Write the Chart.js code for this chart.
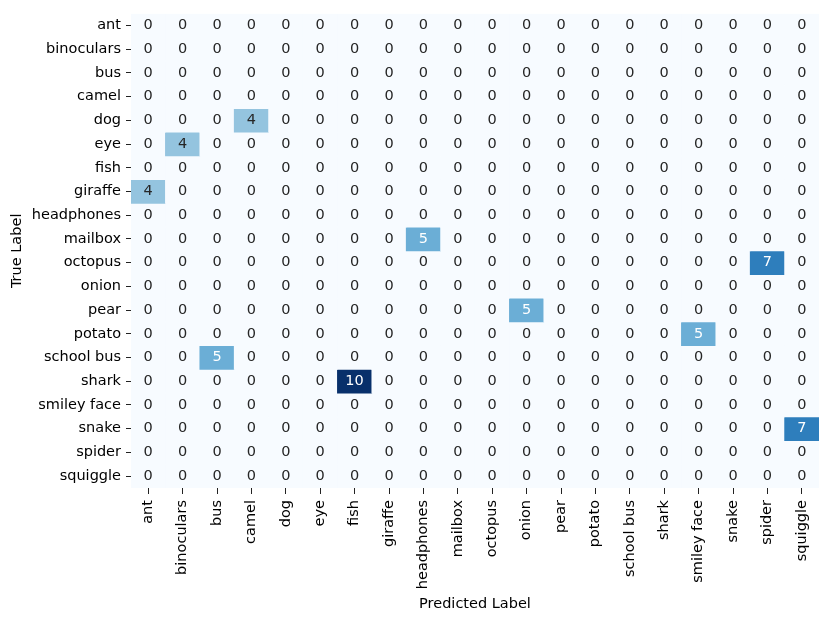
<!DOCTYPE html>
<html>
<head>
<meta charset="utf-8">
<script src="https://cdn.jsdelivr.net/npm/chart.js@4"></script>
<style>
html,body{margin:0;padding:0;background:#fff;}
#wrap{width:830px;height:620px;}
</style>
</head>
<body>
<div id="wrap"><canvas id="c" width="830" height="620"></canvas></div>
<script>
const categories = ["ant","binoculars","bus","camel","dog","eye","fish","giraffe","headphones","mailbox","octopus","onion","pear","potato","school bus","shark","smiley face","snake","spider","squiggle"];
const trueLabels = categories;
const predictedLabels = categories;
// non-zero confusion entries: [true index, predicted index, count]
const nonZeroEntries = [
  [4, 3, 4],
  [5, 1, 4],
  [7, 0, 4],
  [9, 8, 5],
  [10, 18, 7],
  [12, 11, 5],
  [13, 16, 5],
  [14, 2, 5],
  [15, 6, 10],
  [17, 19, 7]
];
const xTitle = "Predicted Label";
const yTitle = "True Label";

const matrix = trueLabels.map(() => predictedLabels.map(() => 0));
nonZeroEntries.forEach(([r, c, v]) => { matrix[r][c] = v; });
const vmax = Math.max(...matrix.flat());

// matplotlib Blues colormap
const bluesStops = [
  [247,251,255],[222,235,247],[198,219,239],[158,202,225],
  [107,174,214],[66,146,198],[33,113,181],[8,81,156],[8,48,107]
];
function blues(t){
  t = Math.max(0, Math.min(1, t));
  const p = t * (bluesStops.length - 1);
  const i = Math.min(Math.floor(p), bluesStops.length - 2);
  const f = p - i;
  const a = bluesStops[i], b = bluesStops[i+1];
  return [0,1,2].map(k => Math.round(a[k] + (b[k]-a[k]) * f));
}
function rgbStr(c){ return `rgb(${c[0]},${c[1]},${c[2]})`; }
function lum(c){
  const l = c.map(v => { v/=255; return v <= 0.03928 ? v/12.92 : Math.pow((v+0.055)/1.055, 2.4); });
  return 0.2126*l[0] + 0.7152*l[1] + 0.0722*l[2];
}

const datasets = trueLabels.map((lab, r) => ({
  label: lab,
  data: predictedLabels.map((p, c) => [r, r + 1]),
  values: matrix[r],
  backgroundColor: matrix[r].map(v => rgbStr(blues(v / vmax))),
  borderWidth: 0,
  categoryPercentage: 1.0,
  barPercentage: 1.0,
  grouped: false
}));

const FONT = "'DejaVu Sans', sans-serif";
const FS = 14.5;

const annotate = {
  id: 'annotate',
  afterDatasetsDraw(chart){
    const ctx = chart.ctx;
    ctx.save();
    ctx.font = `${FS}px ${FONT}`;
    ctx.textAlign = 'center';
    ctx.textBaseline = 'middle';
    chart.data.datasets.forEach((ds, di) => {
      const meta = chart.getDatasetMeta(di);
      meta.data.forEach((el, i) => {
        const v = ds.values[i];
        const col = blues(v / vmax);
        ctx.fillStyle = lum(col) > 0.408 ? '#262626' : '#ffffff';
        const cy = (el.y + el.base) / 2;
        ctx.fillText(String(v), el.x, cy);
      });
    });
    ctx.restore();
  }
};

new Chart(document.getElementById('c'), {
  type: 'bar',
  data: { labels: predictedLabels, datasets },
  plugins: [annotate],
  options: {
    responsive: false,
    animation: false,
    devicePixelRatio: 1,
    layout: { padding: { left: 0, top: 10, right: 11, bottom: 0 } },
    plugins: { legend: { display: false }, tooltip: { enabled: false } },
    scales: {
      x: {
        type: 'category',
        offset: true,
        grid: { display: true, drawOnChartArea: false, drawTicks: true, tickLength: 6, tickWidth: 1, color: '#222', offset: false },
        border: { display: false },
        ticks: { color: '#000', font: { family: FONT, size: FS }, maxRotation: 90, minRotation: 90, autoSkip: false, padding: 6 },
        title: { display: true, text: xTitle, color: '#000', font: { family: FONT, size: FS }, padding: { top: 0, bottom: 7 } },
        afterFit(scale){ scale.height = 132; }
      },
      y: {
        type: 'linear',
        min: 0,
        max: trueLabels.length,
        reverse: true,
        afterBuildTicks(scale){ scale.ticks = trueLabels.map((_, i) => ({ value: i + 0.5 })); },
        grid: { display: true, drawOnChartArea: false, drawTicks: true, tickLength: 5, tickWidth: 1, color: '#222' },
        border: { display: false },
        ticks: {
          color: '#000', font: { family: FONT, size: FS }, padding: 5, autoSkip: false,
          callback(v){ return trueLabels[Math.floor(v)]; }
        },
        title: { display: true, text: yTitle, color: '#000', font: { family: FONT, size: FS }, padding: { top: 9, bottom: 0 } },
        afterFit(scale){ scale.width = 131; }
      }
    }
  }
});
</script>
</body>
</html>
